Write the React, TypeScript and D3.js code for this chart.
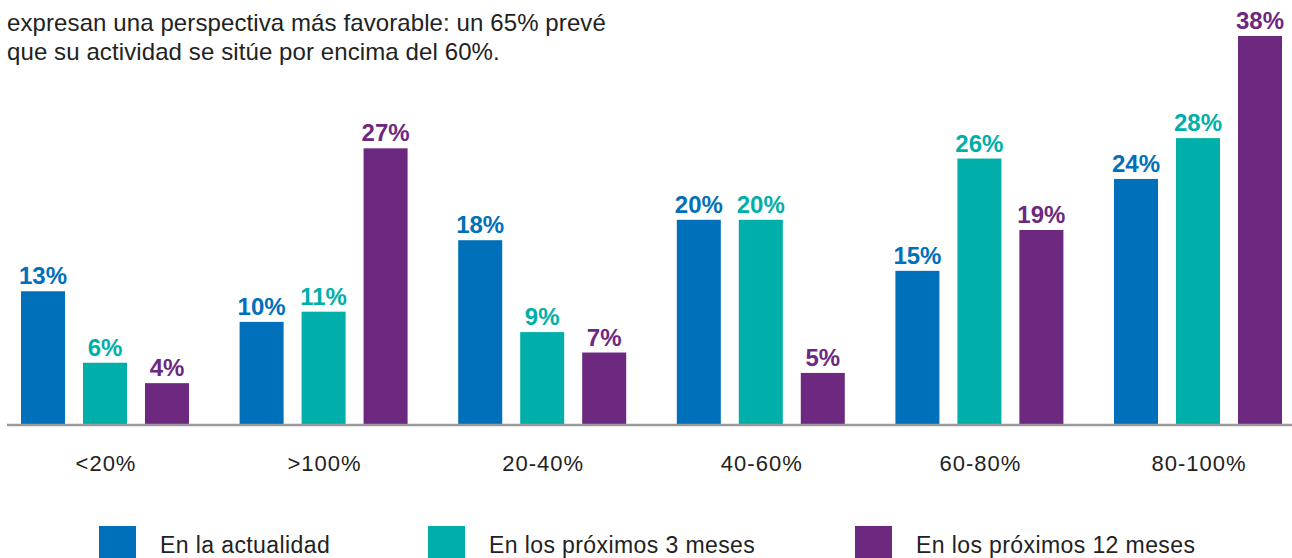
import React from 'react';
import * as d3 from 'd3';

const categories = ['<20%', '>100%', '20-40%', '40-60%', '60-80%', '80-100%'];
const seriesNames = ['En la actualidad', 'En los próximos 3 meses', 'En los próximos 12 meses'];
const actual = [13, 10, 18, 20, 15, 24];
const next3 = [6, 11, 9, 20, 26, 28];
const next12 = [4, 27, 7, 5, 19, 38];
const introLines = [
  'expresan una perspectiva más favorable: un 65% prevé',
  'que su actividad se sitúe por encima del 60%.',
];

const colors = ['#0070BA', '#00AFA9', '#6D2880'];
const seriesValues = [actual, next3, next12];

const width = 1292;
const height = 558;
const baseY = 424;

const App: React.FC = () => {
  const x0 = d3.scaleBand<string>().domain(categories).range([21, 1282]).paddingInner(0.2315).paddingOuter(0);
  const x1 = d3.scaleBand<number>().domain([0, 1, 2]).range([0, x0.bandwidth()]).paddingInner(0.29).paddingOuter(0);
  const y = d3.scaleLinear().domain([0, 38]).range([baseY, 36]);

  const legendX = [99, 428, 855];

  return (
    <svg
      width={width}
      height={height}
      style={{ position: 'absolute', left: 0, top: 0, fontFamily: '"Liberation Sans", Arial, sans-serif' }}
    >
      <rect width={width} height={height} fill="#fff" />

      {/* intro text, first line is cut off at the top */}
      {introLines.map((t, i) => (
        <text key={t} x={7} y={30.5 + i * 29.5} fontSize={24} fill="#222" letterSpacing={0.1}>
          {t}
        </text>
      ))}

      {/* bars */}
      {categories.map((c, ci) => (
        <g key={c} transform={`translate(${x0(c)},0)`}>
          {seriesValues.map((vals, si) => {
            const v = vals[ci];
            const bx = x1(si) as number;
            return (
              <g key={si}>
                <rect x={bx} y={y(v)} width={x1.bandwidth()} height={baseY - y(v)} fill={colors[si]} />
                <text
                  x={bx + x1.bandwidth() / 2}
                  y={y(v) - 7}
                  textAnchor="middle"
                  fontSize={24}
                  fontWeight="bold"
                  fill={colors[si]}
                >
                  {v}%
                </text>
              </g>
            );
          })}
          <text x={x0.bandwidth() / 2 + 1} y={471} textAnchor="middle" fontSize={22} fill="#222" letterSpacing={1}>
            {c}
          </text>
        </g>
      ))}

      {/* baseline */}
      <line x1={7} x2={width} y1={baseY + 1} y2={baseY + 1} stroke="#9a9a9a" strokeWidth={2.5} />

      {/* legend */}
      {seriesNames.map((s, i) => (
        <g key={s} transform={`translate(${legendX[i]},0)`}>
          <rect x={0} y={526} width={37} height={34} fill={colors[i]} />
          <text x={61} y={553} fontSize={23} fill="#222" letterSpacing={0.4}>
            {s}
          </text>
        </g>
      ))}
    </svg>
  );
};

export default App;
